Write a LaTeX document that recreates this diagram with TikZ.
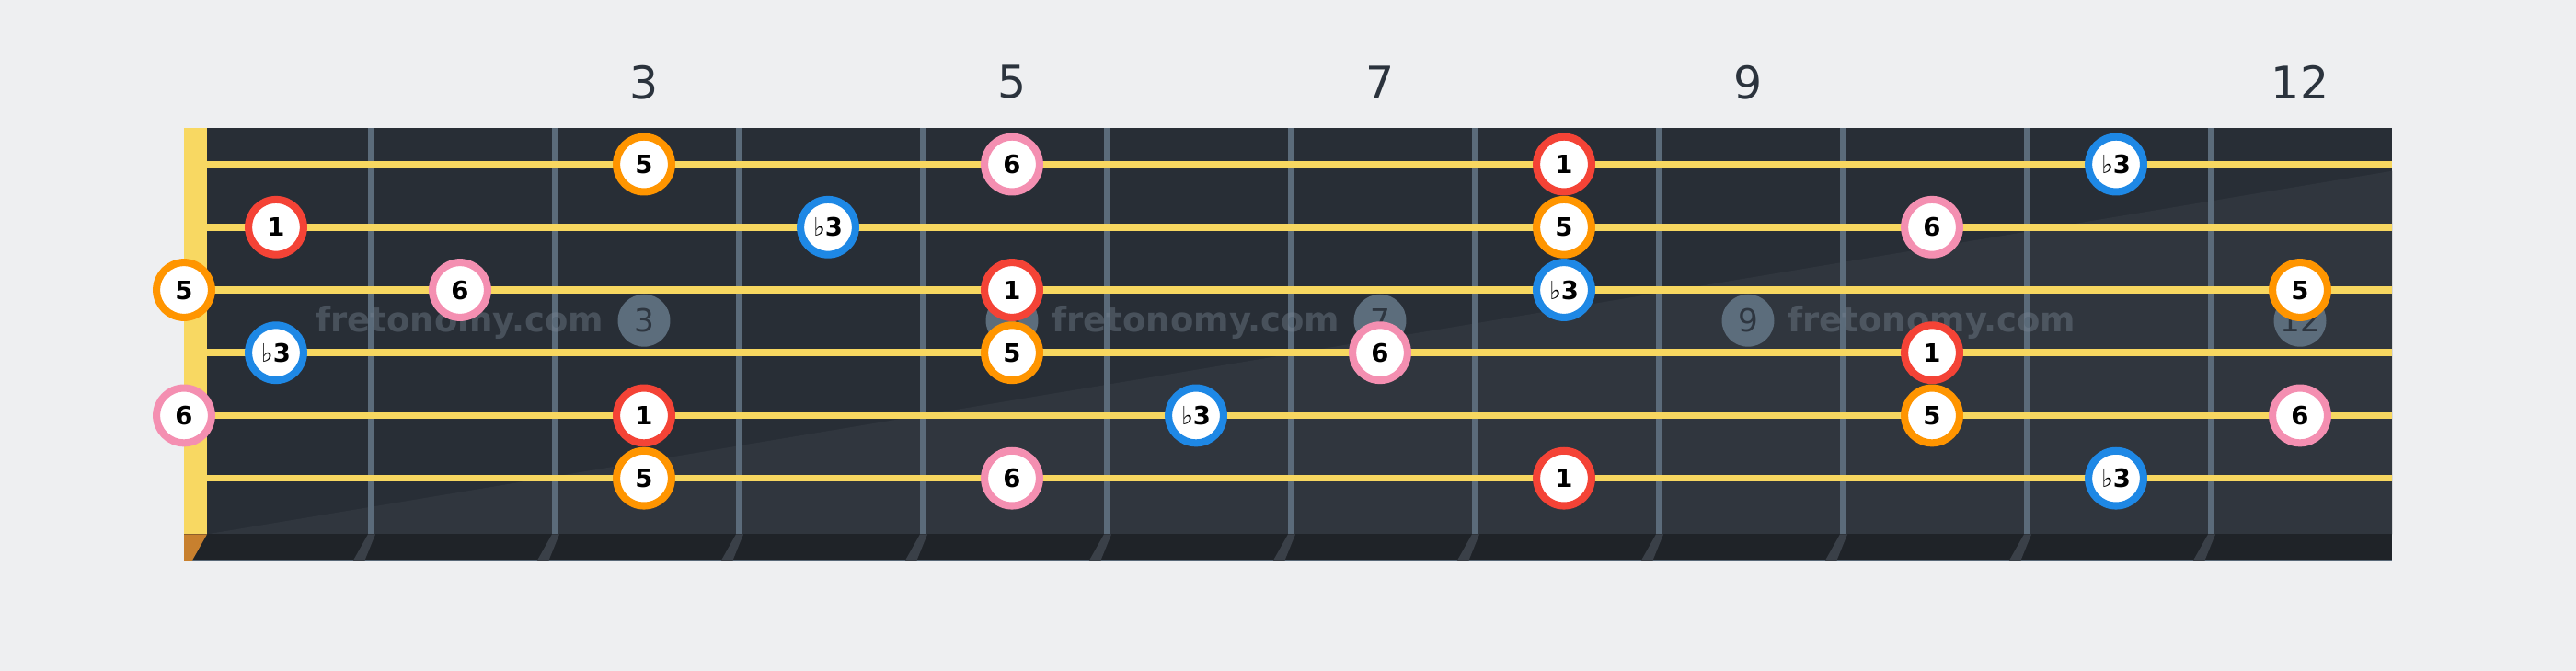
\documentclass[tikz,border=0pt]{standalone}
\usepackage{fontspec}
\setmainfont{DejaVu Sans}
\definecolor{bg}{HTML}{EEEFF1}
\definecolor{boardA}{HTML}{282E36}
\definecolor{boardB}{HTML}{30363E}
\definecolor{stripcol}{HTML}{1F2328}
\definecolor{edgecol}{HTML}{5A6978}
\definecolor{fretcol}{HTML}{5B6B7A}
\definecolor{slashcol}{HTML}{3A4048}
\definecolor{stringcol}{HTML}{F7D760}
\definecolor{nutcol}{HTML}{F8D862}
\definecolor{nutbase}{HTML}{C8802E}
\definecolor{markcol}{HTML}{5C6D7C}
\definecolor{marktext}{HTML}{2E3640}
\definecolor{fretnum}{HTML}{2B333D}
\definecolor{wmcol}{HTML}{7A8694}
\definecolor{cor}{HTML}{FF9500}
\definecolor{crd}{HTML}{F44336}
\definecolor{cbl}{HTML}{1E88E5}
\definecolor{cpk}{HTML}{F48FB1}
\tikzset{
  note/.style={circle, fill=white, draw=#1, line width=2.29pt, minimum size=17pt,
    inner sep=0pt, text height=5.7pt, text depth=0pt,
    font=\fontsize{7.8}{8}\selectfont\bfseries, text=black},
  fretlabel/.style={font=\fontsize{13.9}{14}\selectfont, text=fretnum, inner sep=0pt},
  marker/.style={circle, fill=markcol, minimum size=16.2pt, inner sep=0pt,
    font=\fontsize{9.75}{10}\selectfont, text=marktext},
  watermark/.style={font=\fontsize{10.5}{11}\selectfont\bfseries, text=wmcol, text opacity=0.4, inner sep=0pt},
  stringline/.style={draw=stringcol, line width=2.13pt},
}
\newcommand{\fl}{{\mdseries\char"266D}}
\begin{document}
\begin{tikzpicture}[x=0.017857cm,y=-0.017857cm]
\fill[bg] (0,0) rectangle (1568,408);
\useasboundingbox (0,0) rectangle (1568,408);
% board
\fill[boardA] (112,78) rectangle (1456,325);
\fill[boardB] (126,325) -- (1456,104) -- (1456,325) -- cycle;
\fill[stripcol] (112,325) rectangle (1456,341);
\fill[edgecol] (112,340.2) rectangle (1456,341);
\fill[nutbase] (112,325) -- (126,325) -- (117,341) -- (112,341) -- cycle;
\fill[nutcol] (112,78) rectangle (126,325);
% frets
\foreach \k in {1,...,11} {
  \pgfmathsetmacro\fx{114+112*\k}
  \fill[fretcol] (\fx-2.15,78) rectangle (\fx+2.15,325);
  \fill[slashcol] (\fx-2,325) -- (\fx+2.5,325) -- (\fx-4,341) -- (\fx-11,341) -- cycle;
}
% strings
\foreach \y in {100,138.2,176.4,214.6,252.8,291} {
  \draw[stringline] (126,\y) -- (1456,\y);
}
% fret numbers
\node[fretlabel] (f3) at (392,50) {3};
\node[fretlabel] (f5) at (616,50) {5};
\node[fretlabel] (f7) at (840,50) {7};
\node[fretlabel] (f9) at (1064,50) {9};
\node[fretlabel] (f12) at (1400,50) {12};
% markers
\node[marker] (m3) at (392,195) {3};
\node[marker] (m5) at (616,195) {5};
\node[marker] (m7) at (840,195) {7};
\node[marker] (m9) at (1064,195) {9};
\node[marker] (m12) at (1400,195) {12};
% watermarks
\node[watermark] (w1) at (280,196) {fretonomy.com};
\node[watermark] (w2) at (728,196) {fretonomy.com};
\node[watermark] (w3) at (1176,196) {fretonomy.com};
% string 1
\node[note=cor] (a3) at (392,100) {5};
\node[note=cpk] (a5) at (616,100) {6};
\node[note=crd] (a8) at (952,100) {1};
\node[note=cbl] (a11) at (1288,100) {\fl3};
% string 2
\node[note=crd] (b1) at (168,138.2) {1};
\node[note=cbl] (b4) at (504,138.2) {\fl3};
\node[note=cor] (b8) at (952,138.2) {5};
\node[note=cpk] (b10) at (1176,138.2) {6};
% string 3
\node[note=cor] (c0) at (112,176.4) {5};
\node[note=cpk] (c2) at (280,176.4) {6};
\node[note=crd] (c5) at (616,176.4) {1};
\node[note=cbl] (c8) at (952,176.4) {\fl3};
\node[note=cor] (c12) at (1400,176.4) {5};
% string 4
\node[note=cbl] (d1) at (168,214.6) {\fl3};
\node[note=cor] (d5) at (616,214.6) {5};
\node[note=cpk] (d7) at (840,214.6) {6};
\node[note=crd] (d10) at (1176,214.6) {1};
% string 5
\node[note=cpk] (e0) at (112,252.8) {6};
\node[note=crd] (e3) at (392,252.8) {1};
\node[note=cbl] (e6) at (728,252.8) {\fl3};
\node[note=cor] (e10) at (1176,252.8) {5};
\node[note=cpk] (e12) at (1400,252.8) {6};
% string 6
\node[note=cor] (g3) at (392,291) {5};
\node[note=cpk] (g5) at (616,291) {6};
\node[note=crd] (g8) at (952,291) {1};
\node[note=cbl] (g11) at (1288,291) {\fl3};
\end{tikzpicture}
\end{document}
